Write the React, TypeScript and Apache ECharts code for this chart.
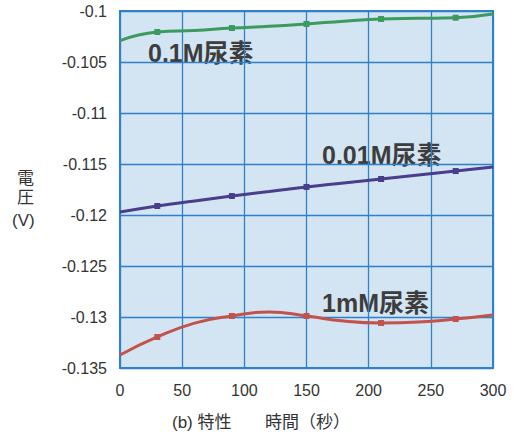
import React, { useEffect, useRef } from "react";
import * as echarts from "echarts";

const times = [0, 30, 60, 90, 120, 150, 180, 210, 240, 270, 300];
const markerIdx = [1, 3, 5, 7, 9];
const v01M = [-0.1029, -0.10206, -0.1019, -0.10167, -0.1015, -0.10127, -0.101, -0.10078, -0.10072, -0.10066, -0.1003];
const v001M = [-0.11971, -0.11912, -0.11862, -0.11814, -0.1177, -0.11725, -0.11686, -0.11647, -0.11608, -0.11569, -0.1153];
const v1mM = [-0.13373, -0.13196, -0.1306, -0.1299, -0.1295, -0.1299, -0.1304, -0.13059, -0.1305, -0.1302, -0.1298];
const xTicks = { min: 0, max: 300, interval: 50 };
const yTicks = { min: -0.135, max: -0.1, interval: 0.005 };
const seriesLabels = ["0.1M尿素", "0.01M尿素", "1mM尿素"];

const FONT = "'Liberation Sans', 'Noto Sans CJK JP', sans-serif";

export default function App() {
  const ref = useRef<HTMLDivElement>(null);
  useEffect(() => {
    if (!ref.current) return;
    const chart = echarts.init(ref.current, undefined, { renderer: "svg" });
    const mk = (vals: number[], color: string) => ({
      type: "line",
      data: times.map((t, i) => [t, vals[i]]),
      smooth: true,
      showAllSymbol: true,
      symbol: "rect",
      symbolSize: (_v: any, p: any) => (markerIdx.includes(p.dataIndex) ? 6 : 0),
      lineStyle: { color, width: 3 },
      itemStyle: { color },
    });
    const lbl = (text: string, left: number, top: number) => ({
      type: "text",
      left,
      top,
      style: { text, fontSize: 25, fontWeight: "bold", fill: "#3d3d3d", fontFamily: FONT },
    });
    const axt = (text: string, left: number, top: number) => ({
      type: "text",
      left,
      top,
      style: { text, fontSize: 17, fill: "#333", fontFamily: FONT },
    });
    chart.setOption({
      animation: false,
      backgroundColor: "#ffffff",
      grid: {
        left: 120,
        right: 27,
        top: 11,
        bottom: 73,
        show: true,
        backgroundColor: "#d3e5f3",
        borderColor: "#2f85c8",
        borderWidth: 2,
      },
      xAxis: {
        type: "value",
        min: xTicks.min,
        max: xTicks.max,
        interval: xTicks.interval,
        axisLine: { show: false },
        axisTick: { show: false },
        splitLine: { show: true, lineStyle: { color: "#2f80c8", width: 1.3 } },
        axisLabel: { color: "#333", fontSize: 16, fontFamily: FONT, margin: 14 },
      },
      yAxis: {
        type: "value",
        min: yTicks.min,
        max: yTicks.max,
        interval: yTicks.interval,
        axisLine: { show: false },
        axisTick: { show: false },
        splitLine: { show: true, lineStyle: { color: "#2f80c8", width: 1.3 } },
        axisLabel: {
          color: "#333",
          fontSize: 16,
          fontFamily: FONT,
          margin: 13,
          formatter: (v: number) => String(parseFloat(v.toFixed(3))),
        },
      },
      series: [mk(v01M, "#3b9a5e"), mk(v001M, "#4a3d8c"), mk(v1mM, "#c4524c")],
      graphic: [
        lbl(seriesLabels[0], 148, 40),
        lbl(seriesLabels[1], 322, 142),
        lbl(seriesLabels[2], 322, 290),
        axt("電", 17, 170),
        axt("圧", 17, 189),
        axt("(V)", 12, 212),
        axt("(b) 特性", 172, 414),
        axt("時間（秒）", 265, 414),
      ],
    });
    return () => chart.dispose();
  }, []);
  return <div ref={ref} style={{ width: 520, height: 441, position: "absolute", left: 0, top: 0 }} />;
}
